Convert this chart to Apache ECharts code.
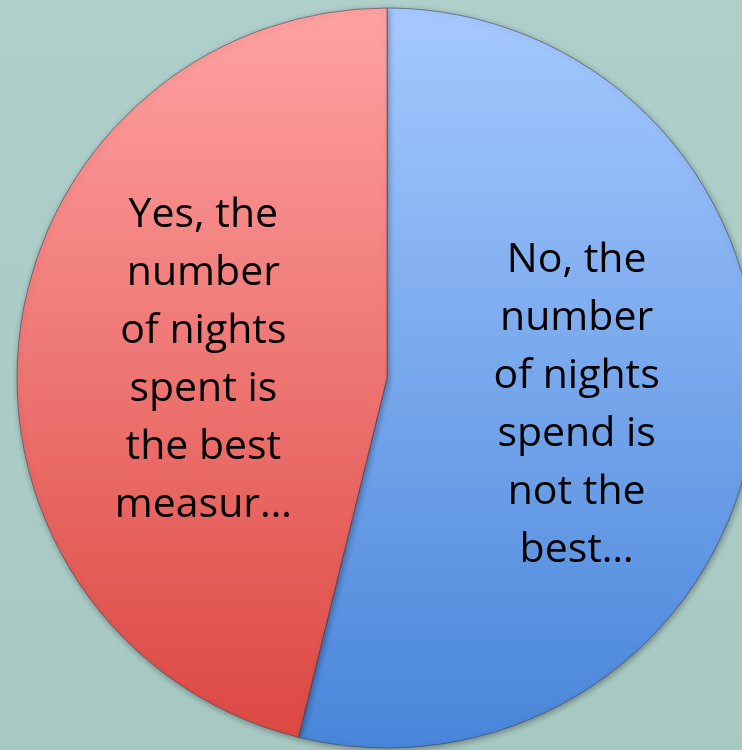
<!DOCTYPE html>
<html>
<head>
<meta charset="utf-8">
<script src="https://cdn.jsdelivr.net/npm/echarts@6/dist/echarts.min.js"></script>
<style>
  html, body { margin: 0; padding: 0; background: #abcbc6; }
  #chart { width: 742px; height: 750px; }
</style>
</head>
<body>
<div id="chart"></div>
<script>
// Survey answers: is the number of nights spent the best measure?
const categories = [
  'No, the\nnumber\nof nights\nspend is\nnot the\nbest…',
  'Yes, the\nnumber\nof nights\nspent is\nthe best\nmeasur…'
];
const responses = [7, 6];
const sliceTop = ['#a6c9ff', '#ffa2a2'];
const sliceBottom = ['#4885d9', '#dc4842'];

const chart = echarts.init(document.getElementById('chart'), null, { renderer: 'canvas' });

const data = categories.map((name, i) => ({
  name: name,
  value: responses[i],
  itemStyle: {
    color: new echarts.graphic.LinearGradient(0, 0, 0, 1, [
      { offset: 0, color: sliceTop[i] },
      { offset: 1, color: sliceBottom[i] }
    ])
  }
}));

chart.setOption({
  backgroundColor: new echarts.graphic.LinearGradient(0, 0, 0, 1, [
    { offset: 0, color: '#afcfca' },
    { offset: 1, color: '#a8c9c3' }
  ]),
  animation: false,
  series: [{
    type: 'pie',
    center: [387, 378],
    radius: [0, 370],
    startAngle: 90,
    clockwise: true,
    silent: true,
    itemStyle: {
      borderColor: 'rgba(60,60,80,0.55)',
      borderWidth: 1,
      shadowColor: 'rgba(0,0,0,0.35)',
      shadowBlur: 6,
      shadowOffsetX: 1,
      shadowOffsetY: 2
    },
    label: {
      show: true,
      position: 'inner',
      formatter: '{b}',
      color: '#000',
      fontFamily: 'Open Sans',
      fontSize: 41,
      lineHeight: 58,
      align: 'center',
      offset: [3, 5]
    },
    labelLine: { show: false },
    data: data
  }]
});
</script>
</body>
</html>
